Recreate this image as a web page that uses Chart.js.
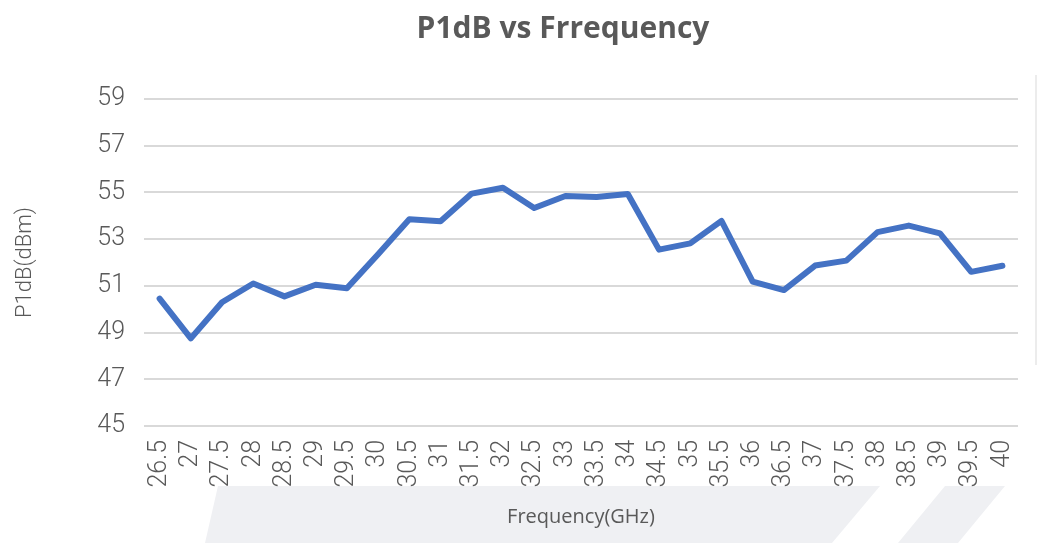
<!DOCTYPE html>
<html>
<head>
<meta charset="utf-8">
<script src="https://cdn.jsdelivr.net/npm/chart.js@4"></script>
<style>
  html, body { margin: 0; padding: 0; background: #ffffff; }
  #wrap { width: 1038px; height: 543px; position: relative; }
</style>
</head>
<body>
<div id="wrap"><canvas id="p1db-chart"></canvas></div>
<script>
// P1dB vs frequency
const frequencies = ['26.5', '27', '27.5', '28', '28.5', '29', '29.5', '30', '30.5', '31',
    '31.5', '32', '32.5', '33', '33.5', '34', '34.5', '35', '35.5', '36',
    '36.5', '37', '37.5', '38', '38.5', '39', '39.5', '40'];
const p1dbValues = [50.45, 48.75, 50.3, 51.1, 50.55, 51.05, 50.9, 52.35, 53.85, 53.77,
    54.95, 55.2, 54.33, 54.85, 54.8, 54.93, 52.55, 52.82, 53.78, 51.18,
    50.82, 51.87, 52.08, 53.3, 53.58, 53.25, 51.6, 51.86];
const yTicks = [45, 47, 49, 51, 53, 55, 57, 59];
const chartTitle = 'P1dB vs Frrequency';

const textColor = '#595959';
const gridColor = '#d9d9d9';
const tickFont = { family: "'Roboto', sans-serif", size: 25, weight: '300' };

// faint watermark stripes, thin frame on the right, and the title
const backdrop = {
    id: 'backdrop',
    beforeDraw(chart) {
        const ctx = chart.ctx;
        ctx.save();
        ctx.fillStyle = '#eff0f3';
        ctx.beginPath();
        ctx.moveTo(218, 486);
        ctx.lineTo(880, 486);
        ctx.lineTo(832, 543);
        ctx.lineTo(205, 543);
        ctx.closePath();
        ctx.fill();
        ctx.beginPath();
        ctx.moveTo(945, 486);
        ctx.lineTo(1005, 486);
        ctx.lineTo(958, 543);
        ctx.lineTo(898, 543);
        ctx.closePath();
        ctx.fill();
        ctx.strokeStyle = '#ececec';
        ctx.lineWidth = 2;
        ctx.beginPath();
        ctx.moveTo(1036, 75);
        ctx.lineTo(1036, 365);
        ctx.stroke();
        ctx.restore();
    },
    afterDraw(chart) {
        const ctx = chart.ctx;
        ctx.save();
        ctx.fillStyle = textColor;
        ctx.font = "bold 30px 'Open Sans', sans-serif";
        ctx.textAlign = 'center';
        ctx.textBaseline = 'middle';
        ctx.fillText(chartTitle, 563, 29);
        ctx.restore();
    }
};

const ctx = document.getElementById('p1db-chart').getContext('2d');
new Chart(ctx, {
    type: 'line',
    data: {
        labels: frequencies,
        datasets: [{
            label: 'P1dB',
            data: p1dbValues,
            borderColor: '#4472c4',
            backgroundColor: '#4472c4',
            borderWidth: 6,
            borderCapStyle: 'round',
            borderJoinStyle: 'round',
            pointRadius: 0,
            tension: 0,
            fill: false
        }]
    },
    options: {
        responsive: true,
        maintainAspectRatio: false,
        animation: false,
        layout: {
            padding: { left: 0, right: 20, top: 99, bottom: 0 }
        },
        plugins: {
            legend: { display: false },
            tooltip: { enabled: false },
            title: { display: false }
        },
        scales: {
            x: {
                offset: true,
                afterFit: scale => {
                    scale.height = 117;
                    scale.paddingLeft = 0;
                    scale.paddingRight = 0;
                },
                grid: { display: false, drawTicks: false },
                border: { display: false },
                ticks: {
                    color: textColor,
                    font: tickFont,
                    minRotation: 90,
                    maxRotation: 90,
                    autoSkip: false,
                    padding: 14
                },
                title: {
                    display: true,
                    text: 'Frequency(GHz)',
                    color: textColor,
                    font: { family: "'Open Sans', sans-serif", size: 20 },
                    padding: { top: 0, bottom: 14 }
                }
            },
            y: {
                min: 45,
                max: 59,
                afterBuildTicks: scale => {
                    scale.ticks = yTicks.map(v => ({ value: v }));
                },
                afterFit: scale => {
                    scale.width = 144;
                },
                grid: { color: gridColor, lineWidth: 2, drawTicks: false },
                border: { display: false },
                ticks: {
                    color: textColor,
                    font: tickFont,
                    padding: 19
                },
                title: {
                    display: true,
                    text: 'P1dB(dBm)',
                    color: textColor,
                    font: { family: "'Roboto', sans-serif", size: 22, weight: '300' },
                    padding: { top: 12, bottom: 0 }
                }
            }
        }
    },
    plugins: [backdrop]
});
</script>
</body>
</html>
